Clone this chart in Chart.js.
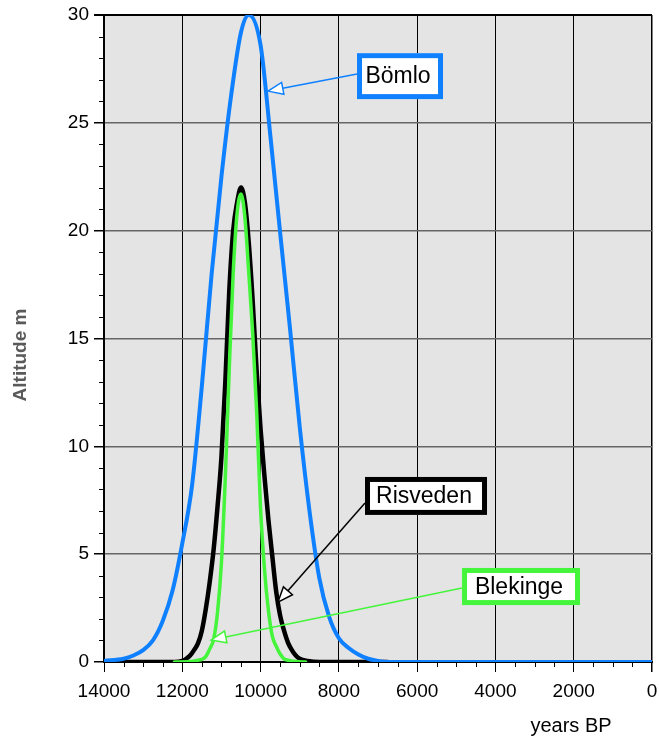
<!DOCTYPE html>
<html>
<head>
<meta charset="utf-8">
<script src="https://cdn.jsdelivr.net/npm/chart.js@4/dist/chart.umd.min.js"></script>
<style>
  html, body { margin: 0; padding: 0; background: #fff; }
  canvas { display: block; }
</style>
</head>
<body>
<canvas id="chart" width="659" height="740"></canvas>
<script>
// Shoreline altitude curves (years BP, metres)
const bomloYears = [14000, 13500, 13250, 13000, 12750, 12500, 12250, 12000, 11750, 11500, 11250, 11000,
  10750, 10500, 10300, 10000, 9750, 9500, 9250, 9000, 8750, 8500, 8250, 8000, 7750, 7500, 7250, 7000, 6750, 0];
const bomloAlt = [0.05, 0.15, 0.3, 0.55, 1.0, 1.9, 3.3, 5.5, 8.2, 12.8, 18.0, 22.5,
  26.3, 29.2, 30.0, 28.6, 24.4, 19.9, 15.5, 10.9, 7.0, 3.9, 2.1, 1.1, 0.65, 0.35, 0.15, 0.05, 0, 0];

const risvedenYears = [14000, 12200, 12000, 11900, 11800, 11700, 11600, 11500, 11400, 11300, 11200, 11100,
  11000, 10900, 10800, 10700, 10600, 10500, 10400, 10300, 10200, 10100, 10000, 9900, 9800, 9700, 9600,
  9500, 9400, 9300, 9200, 9100, 9000, 8800, 8500, 6750];
const risvedenAlt = [0, 0, 0.05, 0.15, 0.3, 0.55, 0.86, 1.45, 2.45, 3.7, 5.2, 7.2,
  9.5, 13.0, 17.2, 20.0, 21.3, 22.0, 21.3, 19.4, 16.7, 13.5, 10.8, 8.6, 6.6, 4.9, 3.25,
  2.15, 1.45, 0.9, 0.55, 0.3, 0.15, 0.05, 0, 0];

const blekingeYears = [12200, 11800, 11600, 11500, 11400, 11300, 11200, 11100, 11000, 10900, 10800, 10700,
  10600, 10500, 10400, 10300, 10200, 10100, 10000, 9900, 9800, 9700, 9600, 9500, 9400, 9300, 9100, 8850];
const blekingeAlt = [0, 0.02, 0.08, 0.12, 0.25, 0.6, 1.05, 2.3, 4.6, 8.6, 13.6, 18.0,
  20.8, 21.7, 20.6, 18.0, 15.2, 11.6, 7.1, 4.3, 2.4, 1.2, 0.73, 0.37, 0.15, 0.08, 0.02, 0];

const FONT = '"Liberation Sans", Arial, sans-serif';
const COLORS = {
  bomlo: '#0f80ff',
  risveden: '#000000',
  blekinge: '#45f53c',
  plotBg: '#e4e4e4',
  hGrid: '#666666',
};

const toPoints = (xs, ys) => xs.map((x, i) => ({ x: x, y: ys[i] }));

// gray plot area
const plotBg = {
  id: 'plotBg',
  beforeDraw(chart) {
    const { ctx, chartArea: a } = chart;
    ctx.save();
    ctx.fillStyle = COLORS.plotBg;
    ctx.fillRect(a.left, a.top, a.right - a.left, a.bottom - a.top);
    ctx.restore();
  },
};

// short minor ticks + axis titles
const axisExtras = {
  id: 'axisExtras',
  afterDraw(chart) {
    const { ctx, chartArea: a, scales } = chart;
    ctx.save();
    ctx.strokeStyle = '#000';
    ctx.lineWidth = 1;
    for (let v = 0; v <= 14000; v += 500) {
      if (v % 2000 === 0) continue;
      const px = Math.round(scales.x.getPixelForValue(v)) + 0.5;
      ctx.beginPath();
      ctx.moveTo(px, a.bottom);
      ctx.lineTo(px, a.bottom + 5);
      ctx.stroke();
    }
    for (let v = 0; v <= 30; v += 1) {
      if (v % 5 === 0) continue;
      const py = Math.round(scales.y.getPixelForValue(v)) + 0.5;
      ctx.beginPath();
      ctx.moveTo(a.left - 5, py);
      ctx.lineTo(a.left, py);
      ctx.stroke();
    }
    ctx.fillStyle = '#000';
    ctx.font = '20px ' + FONT;
    ctx.textAlign = 'center';
    ctx.textBaseline = 'middle';
    ctx.fillText('years BP', 571, 726);
    ctx.save();
    ctx.translate(21, 355);
    ctx.rotate(-Math.PI / 2);
    ctx.filter = 'blur(0.6px)';
    ctx.fillStyle = '#5a5a5a';
    ctx.font = 'bold 19px ' + FONT;
    ctx.fillText('Altitude m', 0, 0);
    ctx.restore();
    ctx.restore();
  },
};

// labelled boxes with open-headed arrows
const callouts = {
  id: 'callouts',
  afterDatasetsDraw(chart, args, opts) {
    const { ctx, scales } = chart;
    const px = v => scales.x.getPixelForValue(v);
    const py = v => scales.y.getPixelForValue(v);
    opts.items.forEach(n => {
      const x1 = px(n.from[0]), y1 = py(n.from[1]);
      const x2 = px(n.tip[0]), y2 = py(n.tip[1]);
      const ang = Math.atan2(y2 - y1, x2 - x1);
      const len = 15, hw = 6;
      const bx = x2 - len * Math.cos(ang), by = y2 - len * Math.sin(ang);
      ctx.save();
      ctx.strokeStyle = n.color;
      ctx.lineWidth = 1.5;
      ctx.beginPath();
      ctx.moveTo(x1, y1);
      ctx.lineTo(bx, by);
      ctx.stroke();
      ctx.beginPath();
      ctx.moveTo(x2, y2);
      ctx.lineTo(bx + hw * Math.sin(ang), by - hw * Math.cos(ang));
      ctx.lineTo(bx - hw * Math.sin(ang), by + hw * Math.cos(ang));
      ctx.closePath();
      ctx.fillStyle = '#fff';
      ctx.fill();
      ctx.stroke();

      const l = px(n.box[0]), t = py(n.box[1]), r = px(n.box[2]), b = py(n.box[3]);
      ctx.fillStyle = '#fff';
      ctx.fillRect(l, t, r - l, b - t);
      ctx.lineWidth = 5;
      ctx.strokeStyle = n.color;
      ctx.strokeRect(l + 2.5, t + 2.5, r - l - 5, b - t - 5);
      ctx.fillStyle = '#000';
      ctx.font = '23px ' + FONT;
      ctx.textAlign = 'center';
      ctx.textBaseline = 'middle';
      ctx.fillText(n.text, (l + r) / 2 - 2, (t + b) / 2 + 1);
      ctx.restore();
    });
  },
};

new Chart(document.getElementById('chart'), {
  type: 'line',
  data: {
    datasets: [
      { label: 'Bömlo', data: toPoints(bomloYears, bomloAlt), borderColor: COLORS.bomlo, borderWidth: 4 },
      { label: 'Blekinge', data: toPoints(blekingeYears, blekingeAlt), borderColor: COLORS.blekinge, borderWidth: 3.5 },
      { label: 'Risveden', data: toPoints(risvedenYears, risvedenAlt), borderColor: COLORS.risveden, borderWidth: 4.5 },
    ],
  },
  options: {
    responsive: false,
    animation: false,
    layout: { padding: { top: 15, right: 7, left: 0, bottom: 0 } },
    elements: {
      point: { radius: 0 },
      line: { cubicInterpolationMode: 'monotone', borderJoinStyle: 'round', borderCapStyle: 'round', fill: false },
    },
    plugins: {
      legend: { display: false },
      tooltip: { enabled: false },
      callouts: {
        items: [
          { text: 'Bömlo', color: COLORS.bomlo, box: [7536, 28.23, 5339, 26.10], from: [7536, 27.26], tip: [9810, 26.47] },
          { text: 'Risveden', color: COLORS.risveden, box: [7332, 8.58, 4215, 6.82], from: [7332, 7.37], tip: [9554, 2.78] },
          { text: 'Blekinge', color: COLORS.blekinge, box: [4853, 4.36, 1839, 2.64], from: [4853, 3.43], tip: [11266, 1.02] },
        ],
      },
    },
    scales: {
      x: {
        type: 'linear',
        reverse: true,
        min: 0,
        max: 14000,
        afterFit: s => { s.height = 78; s.paddingLeft = 0; s.paddingRight = 0; },
        ticks: { stepSize: 2000, color: '#000', padding: 8, font: { family: FONT, size: 19 }, maxRotation: 0,
          callback: v => String(v) },
        grid: {
          color: '#000',
          lineWidth: c => (c.tick && c.tick.value === 0 ? 1.5 : 1),
          tickColor: '#000',
          tickLength: 10,
        },
        border: { color: '#000', width: 2 },
      },
      y: {
        min: 0,
        max: 30,
        afterFit: s => { s.width = 104; s.paddingTop = 0; s.paddingBottom = 0; },
        ticks: { stepSize: 5, color: '#000', padding: 5, font: { family: FONT, size: 19 } },
        grid: {
          color: c => (c.tick && c.tick.value === 30 ? '#000' : COLORS.hGrid),
          lineWidth: c => (c.tick && c.tick.value === 30 ? 2 : 1.5),
          tickColor: '#000',
          tickLength: 10,
        },
        border: { color: '#000', width: 2 },
      },
    },
  },
  plugins: [plotBg, axisExtras, callouts],
});
</script>
</body>
</html>
